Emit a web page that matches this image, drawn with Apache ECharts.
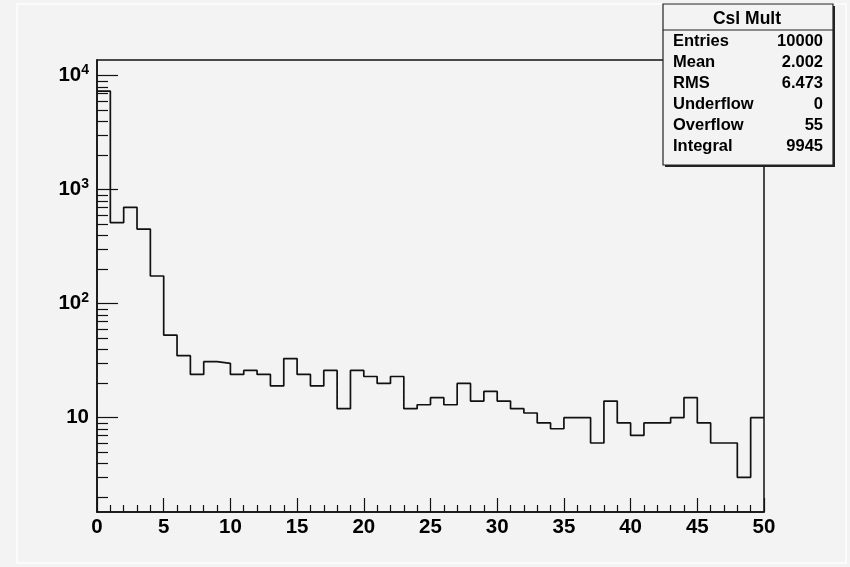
<!DOCTYPE html>
<html>
<head>
<meta charset="utf-8">
<script src="https://cdn.jsdelivr.net/npm/echarts@6/dist/echarts.min.js"></script>
<style>
  html, body { margin: 0; padding: 0; background: #f3f3f3; }
  #chart { width: 850px; height: 567px; }
</style>
</head>
<body>
<div id="chart"></div>
<script>
// ---- data ----
const binLowEdges = [0,1,2,3,4,5,6,7,8,9,10,11,12,13,14,15,16,17,18,19,20,21,22,23,24,25,26,27,28,29,30,31,32,33,34,35,36,37,38,39,40,41,42,43,44,45,46,47,48,49];
const binWidth = 1;
const counts = [7340, 514, 701, 452, 175, 53, 35, 24, 31, 30,
                24, 26, 24, 19, 33, 24, 19, 26, 12, 26,
                23, 20, 23, 12, 13, 15, 13, 20, 14, 17,
                14, 12, 11, 9, 8, 10, 10, 6, 14, 9,
                7, 9, 9, 10, 15, 9, 6, 6, 3, 10];
const xTickLabels = ['0','5','10','15','20','25','30','35','40','45','50'];
const yDecadeExponents = [1, 2, 3, 4];
const statsTitle = 'Csl Mult';
const statsNames = ['Entries', 'Mean', 'RMS', 'Underflow', 'Overflow', 'Integral'];
const statsValues = ['10000', '2.002', '6.473', '0', '55', '9945'];

// ---- axis range (log10 space) ----
const LOG_MIN = 0.173, LOG_MAX = 4.138;

// histogram outline points built from the bins
const stepPoints = binLowEdges.map((x, i) => [x, counts[i]]);
stepPoints.push([binLowEdges[binLowEdges.length - 1] + binWidth, counts[counts.length - 1]]);

// log minor tick positions (2..9 x 10^k)
const minorTicks = [];
for (let k = 0; k <= 4; k++) {
  for (let m = 2; m <= 9; m++) {
    const l = Math.log10(m * Math.pow(10, k));
    if (l > LOG_MIN && l < LOG_MAX) minorTicks.push(l);
  }
}

const FONT = '"Liberation Sans", Arial, Helvetica, sans-serif';
const chart = echarts.init(document.getElementById('chart'), null, { renderer: 'canvas' });

// stats box geometry
const BX = 663, BY = 4, BW = 170, BH = 161, TITLE_H = 26;
const statsEls = [];
statsEls.push({ type: 'rect', shape: { x: BX + 2, y: BY + 2, width: BW, height: BH }, style: { fill: '#222' }, z: 100 });
statsEls.push({ type: 'rect', shape: { x: BX, y: BY, width: BW, height: BH }, style: { fill: '#f3f3f3', stroke: '#222', lineWidth: 1.2 }, z: 101 });
statsEls.push({ type: 'line', shape: { x1: BX, y1: BY + TITLE_H, x2: BX + BW, y2: BY + TITLE_H }, style: { stroke: '#222', lineWidth: 1.2 }, z: 102 });
statsEls.push({ type: 'text', x: BX + BW / 2 - 1, y: BY + 15, z: 103,
  style: { text: statsTitle, font: 'bold 17.5px ' + FONT, fill: '#000', align: 'center', verticalAlign: 'middle' } });
statsNames.forEach((n, i) => {
  const cy = 41.5 + i * 20.9;
  statsEls.push({ type: 'text', x: BX + 10, y: cy, z: 103,
    style: { text: n, font: 'bold 16.5px ' + FONT, fill: '#000', align: 'left', verticalAlign: 'middle' } });
  statsEls.push({ type: 'text', x: BX + 160, y: cy, z: 103,
    style: { text: statsValues[i], font: 'bold 16.5px ' + FONT, fill: '#000', align: 'right', verticalAlign: 'middle' } });
});

const option = {
  animation: false,
  backgroundColor: '#f3f3f3',
  grid: { left: 97, right: 86, top: 60, bottom: 55, show: true, borderColor: '#111', borderWidth: 1.5, backgroundColor: 'transparent' },
  xAxis: {
    type: 'value', min: 0, max: 50, interval: 5,
    axisLine: { show: true, onZero: false, lineStyle: { color: '#111', width: 1.5 } },
    axisTick: { show: true, inside: true, length: 14, lineStyle: { color: '#111', width: 1.2 } },
    minorTick: { show: true, splitNumber: 5, length: 7, lineStyle: { color: '#111', width: 1.2 } },
    axisLabel: { show: true, margin: 5, color: '#000', fontFamily: FONT, fontWeight: 'bold', fontSize: 20.5,
      formatter: (v) => xTickLabels[Math.round(v / 5)] },
    splitLine: { show: false }
  },
  yAxis: [
    { type: 'log', logBase: 10, min: Math.pow(10, LOG_MIN), max: Math.pow(10, LOG_MAX), position: 'left',
      show: false, splitLine: { show: false } },
    { type: 'value', min: LOG_MIN, max: LOG_MAX, position: 'left', offset: 0,
      axisLine: { show: true, lineStyle: { color: '#111', width: 1.5 } },
      axisTick: { show: true, inside: true, length: 21, customValues: yDecadeExponents, lineStyle: { color: '#111', width: 1.2 } },
      axisLabel: { show: true, margin: 8, customValues: yDecadeExponents, color: '#000',
        formatter: (v) => (v === 1 ? '{b|10}' : '{b|10}{s|' + v + '}'),
        rich: {
          b: { fontFamily: FONT, fontWeight: 'bold', fontSize: 20.5, color: '#000' },
          s: { fontFamily: FONT, fontWeight: 'bold', fontSize: 14, color: '#000', padding: [0, 0, 12, 0] }
        } },
      splitLine: { show: false } },
    { type: 'value', min: LOG_MIN, max: LOG_MAX, position: 'left', offset: 0,
      axisLine: { show: false },
      axisTick: { show: true, inside: true, length: 11, customValues: minorTicks, lineStyle: { color: '#111', width: 1.2 } },
      axisLabel: { show: false },
      splitLine: { show: false } }
  ],
  series: [{
    type: 'line', yAxisIndex: 0, step: 'end', data: stepPoints,
    showSymbol: false, symbol: 'none',
    lineStyle: { color: '#111', width: 1.7 },
    clip: true
  }],
  graphic: [
    { type: 'rect', shape: { x: 17, y: 4, width: 829, height: 559 }, style: { fill: 'none', stroke: '#fbfbfb', lineWidth: 2 }, z: 0, silent: true },
    { type: 'group', children: statsEls }
  ]
};
chart.setOption(option);
</script>
</body>
</html>
